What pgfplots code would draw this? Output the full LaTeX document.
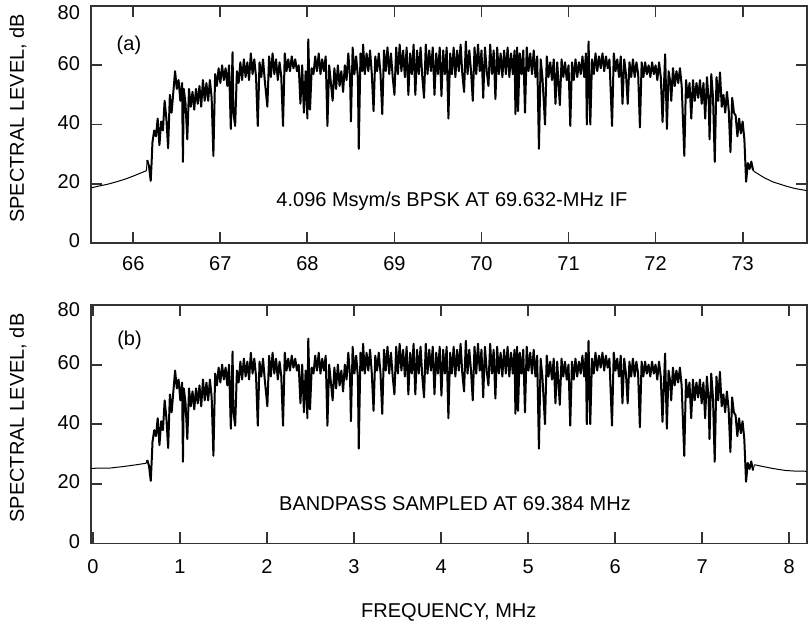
\documentclass[border=0pt]{standalone}
\usepackage{pgfplots}
\pgfplotsset{compat=1.18}
\usepackage{pgfplotstable}
\usepackage{fontspec}
\setmainfont{Liberation Sans}

% spectrum inside the band, MHz / dB
\pgfplotstableread{
f dB
66.16 28
66.18 26
66.20 21
66.21 27
66.22 34
66.24 38
66.26 36
66.28 42
66.30 33
66.32 41
66.34 38
66.36 48
66.38 42
66.40 32
66.42 50
66.44 44
66.46 51
66.48 58
66.50 52
66.52 55
66.54 48
66.56 54
66.57 27.4
66.58 52
66.60 47
66.62 35
66.64 52
66.66 46
66.68 51
66.70 45
66.72 52
66.74 47
66.76 53
66.78 46
66.80 55
66.82 48
66.84 54
66.86 48
66.88 55
66.90 49
66.92 29.4
66.94 57
66.96 53
66.98 59
67.00 54
67.02 60
67.04 55
67.06 59
67.08 53
67.10 60
67.12 38.5
67.14 64.4
67.15 44
67.17 39.5
67.19 58
67.21 54
67.23 61
67.25 55
67.27 62
67.29 56
67.31 61
67.33 55
67.35 64
67.37 57
67.39 62
67.41 56
67.43 39.5
67.45 61
67.47 56
67.49 62
67.51 55
67.54 46
67.56 63
67.58 56
67.60 64
67.62 57
67.64 62
67.66 55
67.68 61
67.70 56
67.72 39.5
67.74 64
67.76 58
67.78 62
67.80 58
67.82 63
67.84 59
67.86 62
67.88 58
67.90 60
67.92 47
67.94 60
67.96 44
67.98 58
68.00 42
68.01 68.7
68.03 45
68.05 59
68.07 57
68.09 63
68.11 58
68.13 64
68.15 57
68.17 62
68.19 58
68.21 63
68.23 39.5
68.25 60
68.27 54
68.29 48
68.31 59
68.33 52
68.35 60
68.37 53
68.39 58
68.41 51
68.43 60
68.45 55
68.47 64
68.49 56
68.50 41
68.52 66
68.54 57
68.56 63
68.58 56
68.59 31.8
68.61 64
68.63 58
68.64 67
68.66 57
68.68 64
68.70 58
68.72 65
68.74 57
68.76 44.5
68.78 63
68.80 58
68.82 64
68.84 57
68.86 43.5
68.88 65
68.90 58
68.92 66
68.94 57
68.96 64
68.98 56
69.00 50
69.02 66
69.04 57
69.06 67
69.08 58
69.10 65
69.12 56
69.14 66
69.16 50
69.18 64
69.20 57
69.22 67
69.24 50
69.26 65
69.28 57
69.30 66
69.32 56
69.34 49
69.36 67
69.38 57
69.40 65
69.42 58
69.44 66
69.46 50
69.48 64
69.50 57
69.52 66
69.54 49.6
69.56 65
69.58 57
69.60 66
69.62 42
69.64 64
69.66 57
69.68 66
69.70 56
69.72 65
69.74 58
69.76 67
69.78 57
69.80 51
69.82 68
69.84 57
69.86 65
69.88 58
69.90 48
69.92 66
69.94 57
69.96 67
69.98 58
70.00 65
70.02 49
70.04 66
70.06 58
70.08 53
70.10 67
70.12 57
70.14 65
70.16 48.6
70.18 66
70.20 57
70.22 64
70.24 56
70.26 65
70.28 57
70.30 66
70.32 56
70.34 64
70.36 57
70.38 65
70.39 43.5
70.41 66
70.42 44.5
70.44 64
70.46 57
70.48 65
70.50 44
70.52 66
70.54 58
70.56 64
70.58 57
70.60 65
70.62 56
70.64 63
70.66 31.8
70.68 62
70.70 56
70.73 40
70.75 63
70.77 56
70.79 61
70.81 55
70.83 62
70.85 47
70.87 61
70.90 46.5
70.92 62
70.94 56
70.96 61
70.98 55
71.00 60
71.02 39.5
71.04 61
71.06 55
71.08 62
71.10 56
71.12 61
71.14 57
71.16 63
71.18 56
71.20 64
71.21 40
71.23 68
71.25 40
71.27 62
71.29 57
71.31 64
71.33 58
71.35 63
71.37 59
71.39 64
71.41 58
71.43 63
71.45 59
71.47 62
71.50 39.5
71.52 64
71.54 58
71.56 62
71.58 56
71.60 63
71.62 47
71.64 62
71.66 57
71.68 47
71.70 61
71.72 56
71.74 62
71.76 56
71.78 61
71.80 57
71.82 39
71.84 61
71.86 56
71.88 61
71.90 57
71.92 60
71.94 56
71.96 61
71.98 57
72.00 60
72.02 55
72.04 61
72.06 56
72.08 40.8
72.11 63.7
72.13 38.5
72.15 58
72.17 54
72.18 48
72.20 59
72.22 53
72.24 58
72.26 54
72.28 59
72.30 53
72.33 29.4
72.35 55
72.37 49
72.39 54
72.41 42
72.43 55
72.45 48
72.47 54
72.49 49
72.51 55
72.53 47
72.55 54
72.57 42
72.59 56
72.61 48
72.62 35
72.64 57
72.66 49
72.68 27.4
72.70 56
72.72 48
72.74 57.6
72.76 46
72.78 50
72.80 44
72.82 51
72.84 45
72.86 30.7
72.88 49
72.90 44
72.92 43
72.94 36
72.96 42
72.98 37
73.00 41
73.02 35
73.04 20.7
73.06 27
73.08 25
73.10 27.5
73.12 24.5
}\band

% skirts outside the band
\pgfplotstableread{
f dB
65.514 18.6
65.60 19.2
65.70 19.8
65.80 20.6
65.90 21.5
66.00 22.6
66.10 23.8
66.15 24.4
66.16 28
}\leftA
\pgfplotstableread{
f dB
73.12 24.5
73.14 24.0
73.25 22.0
73.35 20.6
73.50 19.2
73.60 18.4
73.735 17.7
}\rightA
\pgfplotstableread{
f dB
-0.03 25.2
0.20 25.3
0.35 25.8
0.50 26.4
0.61 26.9
0.624 28
}\leftB
\pgfplotstableread{
f dB
7.584 24.5
7.60 26.4
7.70 25.8
7.80 25.2
7.95 24.5
8.05 24.3
8.21 24.2
}\rightB

\pgfplotsset{
  spec/.style={
    scale only axis, width=357.8pt,
    ymin=0, ymax=80, ytick={0,20,40,60}, extra y ticks={80},
    tick align=inside, major tick length=5.5pt,
    xtick pos=both, ytick pos=both,
    axis line style={line width=0.9pt, black!80},
    every tick/.style={line width=0.9pt, black!80},
    tick label style={font=\fontsize{10}{12}\selectfont},
    label style={font=\fontsize{10}{12}\selectfont},
    /pgf/number format/assume math mode=true,
    typeset ticklabels with strut,
    yticklabel style={xshift=-2pt},
    ylabel={SPECTRAL LEVEL, dB},
    every axis y label/.style={at={(axis description cs:-0.102,0.526)}, rotate=90, anchor=center},
    clip=true,
  },
  trace/.style={black, line width=1pt, no marks, line join=round},
}

\begin{document}
\begin{tikzpicture}
\path[use as bounding box] (0,0) rectangle (406pt,-313pt);

\begin{axis}[spec, at={(45.5pt,-121.5pt)}, anchor=south west, height=118.5pt,
  xmin=65.514, xmax=73.735, xtick={66,...,73},
  xticklabel style={yshift=-1.6pt},
  extra y tick style={yticklabel style={yshift=-4.2pt}}]
\addplot[trace, line width=0.5pt] table[x=f, y=dB] {\leftA};
\addplot[trace] table[x=f, y=dB] {\band};
\addplot[trace, line width=0.5pt] table[x=f, y=dB] {\rightA};
\node[font=\fontsize{10}{12}\selectfont] at (axis cs:65.95,66.8) {(a)};
\node[font=\fontsize{10}{12}\selectfont] at (axis cs:69.66,13.9) {4.096 Msym/s BPSK AT 69.632-MHz IF};
\end{axis}

\begin{axis}[spec, at={(45.5pt,-271.7pt)}, anchor=south west, height=119.2pt,
  xmin=-0.0225, xmax=8.2, xtick={0,...,8},
  xticklabel style={yshift=-3.3pt},
  extra y tick style={yticklabel style={yshift=-3.4pt}},
  xlabel={FREQUENCY, MHz},
  every axis x label/.style={at={(axis description cs:0.5,0)}, anchor=center, yshift=-34.5pt}]
\addplot[trace, line width=0.5pt] table[x=f, y=dB] {\leftB};
\addplot[trace] table[x expr=\thisrow{f}-65.536, y=dB] {\band};
\addplot[trace, line width=0.5pt] table[x=f, y=dB] {\rightB};
\node[font=\fontsize{10}{12}\selectfont] at (axis cs:0.42,68) {(b)};
\node[font=\fontsize{10}{12}\selectfont] at (axis cs:4.16,13.3) {BANDPASS SAMPLED AT 69.384 MHz};
\end{axis}
\end{tikzpicture}
\end{document}
